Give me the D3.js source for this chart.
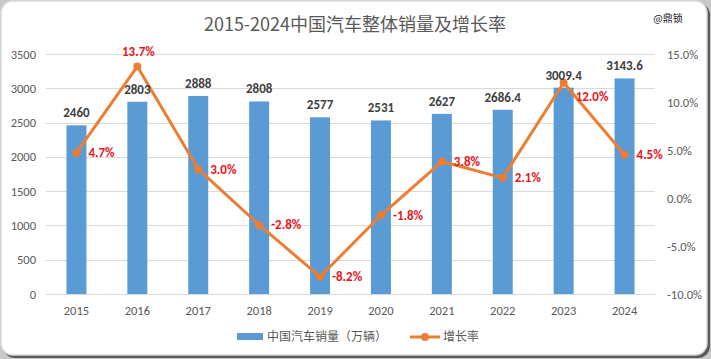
<!DOCTYPE html>
<html><head><meta charset="utf-8">
<script src="https://cdn.jsdelivr.net/npm/d3@7/dist/d3.min.js"></script>
<style>body{margin:0;background:#fff;}svg{display:block;font-family:"Microsoft YaHei","Noto Sans CJK SC",sans-serif;}</style>
</head><body>
<svg id="c" width="711" height="359"></svg>
<script>
const years = ["2015","2016","2017","2018","2019","2020","2021","2022","2023","2024"];
const sales = [2460, 2803, 2888, 2808, 2577, 2531, 2627, 2686.4, 3009.4, 3143.6];
const salesLabels = ["2460","2803","2888","2808","2577","2531","2627","2686.4","3009.4","3143.6"];
const growth = [4.7, 13.7, 3.0, -2.8, -8.2, -1.8, 3.8, 2.1, 12.0, 4.5];
const leftTicks = [0, 500, 1000, 1500, 2000, 2500, 3000, 3500];
const rightTicks = [-10, -5, 0, 5, 10, 15];
const title = "2015-2024中国汽车整体销量及增长率";
const legendNames = ["中国汽车销量（万辆）", "增长率"];

const svg = d3.select("#c");
const W = 711, H = 359;
const m = {l:46, r:655, t:54, b:294};
const numFont = "Calibri,Carlito,'Liberation Sans',sans-serif";

// frame
svg.append("rect").attr("x",0).attr("y",0).attr("width",W).attr("height",H).attr("fill","#c8c8c8");
svg.append("rect").attr("x",3).attr("y",3).attr("width",W-4).attr("height",H-4).attr("rx",12).attr("fill","#5a5a5a");
svg.append("rect").attr("x",1).attr("y",1).attr("width",W-5).attr("height",H-5).attr("rx",12)
  .attr("fill","#fff").attr("stroke","#d9d9d9").attr("stroke-width",1.5);

const x = d3.scaleBand().domain(years).range([m.l, m.r]).paddingInner(0).paddingOuter(0);
const y = d3.scaleLinear().domain([0,3500]).range([m.b, m.t]);
const y2 = d3.scaleLinear().domain([-10,15]).range([m.b, m.t]);

// gridlines
svg.append("g").selectAll("line").data(leftTicks).join("line")
  .attr("x1",m.l).attr("x2",m.r).attr("y1",d=>Math.round(y(d))+0.5).attr("y2",d=>Math.round(y(d))+0.5)
  .attr("stroke","#d9d9d9").attr("stroke-width",1);

// left axis
const ga = svg.append("g").attr("transform",`translate(${m.l},0)`)
  .call(d3.axisLeft(y).tickValues(leftTicks).tickSize(0).tickPadding(10).tickFormat(d3.format("d")));
ga.select(".domain").remove();
ga.selectAll("text").attr("fill","#595959").style("font-size","12.5px").style("font-family",numFont);

// right axis
const gr = svg.append("g").attr("transform",`translate(${m.r},0)`)
  .call(d3.axisRight(y2).tickValues(rightTicks).tickSize(0).tickPadding(12).tickFormat(d=>d.toFixed(1)+"%"));
gr.select(".domain").remove();
gr.selectAll("text").attr("fill","#595959").style("font-size","12.5px").style("font-family",numFont);

// bottom axis
const gb = svg.append("g").attr("transform",`translate(0,${m.b})`)
  .call(d3.axisBottom(x).tickSize(0).tickPadding(12));
gb.select(".domain").attr("stroke","#d9d9d9");
gb.selectAll("text").attr("fill","#595959").style("font-size","12.5px").style("font-family",numFont);

// bars
const bw = 20;
svg.append("g").selectAll("rect").data(sales).join("rect")
  .attr("x",(d,i)=>x(years[i])+x.bandwidth()/2-bw/2).attr("width",bw)
  .attr("y",d=>y(d)).attr("height",d=>m.b-y(d)).attr("fill","#5b9bd5");

// line
const line = d3.line().x((d,i)=>x(years[i])+x.bandwidth()/2).y(d=>y2(d));
svg.append("path").datum(growth).attr("d",line).attr("fill","none").attr("stroke","#ed7d31").attr("stroke-width",3).attr("stroke-linejoin","round");
svg.append("g").selectAll("circle").data(growth).join("circle")
  .attr("cx",(d,i)=>x(years[i])+x.bandwidth()/2).attr("cy",d=>y2(d)).attr("r",4).attr("fill","#ed7d31");

// bar value labels
svg.append("g").selectAll("text").data(sales).join("text")
  .attr("x",(d,i)=>x(years[i])+x.bandwidth()/2).attr("y",d=>y(d)-8)
  .attr("text-anchor","middle").attr("fill","#404040").style("font-size","13px").style("font-weight","bold")
  .style("font-family",numFont)
  .text((d,i)=>salesLabels[i]);

// growth labels
svg.append("g").selectAll("text").data(growth).join("text")
  .attr("x",(d,i)=>{const cx=x(years[i])+x.bandwidth()/2; return i===1?cx+1:cx+12;})
  .attr("y",(d,i)=>i===1?y2(d)-10:(i===8?y2(d)+18:y2(d)+4.5))
  .attr("text-anchor",(d,i)=>i===1?"middle":"start")
  .attr("fill","#e8141b").style("font-size","13px").style("font-weight","bold")
  .style("font-family",numFont)
  .text(d=>d.toFixed(1)+"%");

// title
svg.append("text").attr("x",355).attr("y",31).attr("text-anchor","middle").attr("fill","#595959")
  .style("font-size","18px").text(title);
// watermark
svg.append("text").attr("x",668).attr("y",22).attr("text-anchor","middle").attr("fill","#222")
  .style("font-size","10px").text("@鼎锁");

// legend
const lg = svg.append("g");
lg.append("rect").attr("x",237).attr("y",333).attr("width",26).attr("height",7).attr("fill","#5b9bd5");
lg.append("text").attr("x",267).attr("y",341).attr("fill","#595959").style("font-size","12px").text(legendNames[0]);
lg.append("line").attr("x1",410).attr("x2",440).attr("y1",337).attr("y2",337).attr("stroke","#ed7d31").attr("stroke-width",3);
lg.append("circle").attr("cx",425).attr("cy",337).attr("r",4).attr("fill","#ed7d31");
lg.append("text").attr("x",443).attr("y",341).attr("fill","#595959").style("font-size","12px").text(legendNames[1]);
</script>
</body></html>
